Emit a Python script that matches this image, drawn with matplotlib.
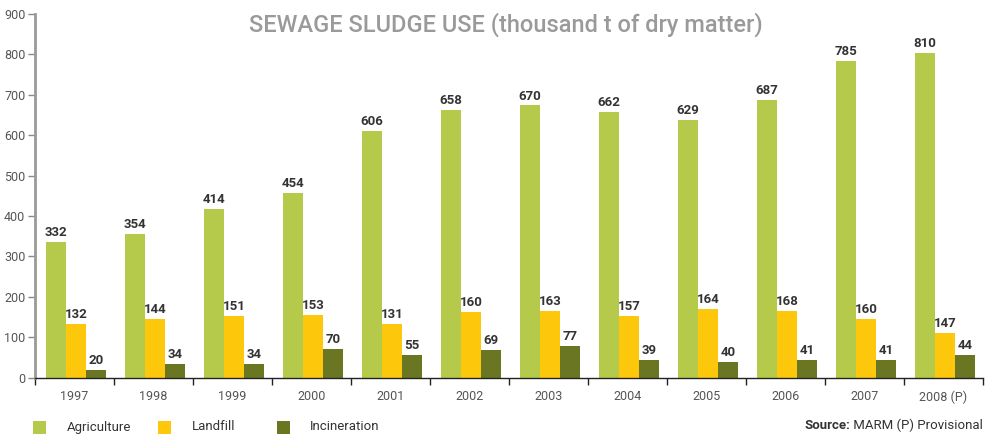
import matplotlib
matplotlib.use("Agg")
import numpy as np
import matplotlib.pyplot as plt
from matplotlib.patches import Rectangle

plt.rcParams['font.family'] = ['Roboto', 'DejaVu Sans']

years = ["1997", "1998", "1999", "2000", "2001", "2002", "2003", "2004",
         "2005", "2006", "2007", "2008 (P)"]
series = ["Agriculture", "Landfill", "Incineration"]

# bar heights as drawn in the picture
agriculture = [336, 356, 417, 457, 610, 662, 674, 658, 638, 687, 784, 803]
landfill = [133, 145, 153, 155, 133, 162, 165, 153, 170, 165, 145, 110]
incineration = [19, 34, 34, 71, 56, 68, 78, 44, 39, 44, 44, 56]

# printed value labels
agriculture_lbl = [332, 354, 414, 454, 606, 658, 670, 662, 629, 687, 785, 810]
landfill_lbl = [132, 144, 151, 153, 131, 160, 163, 157, 164, 168, 160, 147]
incineration_lbl = [20, 34, 34, 70, 55, 69, 77, 39, 40, 41, 41, 44]

colors = ["#b5c94a", "#fdc80c", "#6b7622"]

fig = plt.figure(figsize=(9.87, 4.34), dpi=100)
ax = fig.add_axes([35 / 987, 1 - 377.7 / 434, 948 / 987, (377.7 - 14) / 434])

x = np.arange(len(years)) + 0.52
w = 0.253
data = [agriculture, landfill, incineration]
labels = [agriculture_lbl, landfill_lbl, incineration_lbl]
for k in range(3):
    bars = ax.bar(x + (k - 1) * w, data[k], width=w, color=colors[k], linewidth=0)
    for b, lab in zip(bars, labels[k]):
        ax.annotate(str(lab), (b.get_x() + b.get_width() / 2, b.get_height()),
                    xytext=(0, 2), textcoords="offset points",
                    ha="center", va="bottom", fontsize=9.5, fontweight="bold",
                    color="#333333")

ax.set_xlim(0, 12)
ax.set_ylim(0, 900)
ax.set_yticks(range(0, 901, 100))
ax.set_xticks(range(0, 13))
ax.set_xticklabels([])
ax.set_xticks(np.arange(12) + 0.5, minor=True)
ax.set_xticklabels(years, minor=True)
ax.tick_params(axis="x", which="major", length=5, width=1, color="#222222", direction="out")
ax.tick_params(axis="x", which="minor", length=0, pad=9, labelsize=9, labelcolor="#555555")
ax.tick_params(axis="y", length=5, width=1, color="#888888", labelsize=9,
               labelcolor="#555555", pad=2)

for s in ["top", "right"]:
    ax.spines[s].set_visible(False)
ax.spines["left"].set_color("#999999")
ax.spines["left"].set_linewidth(2)
ax.spines["bottom"].set_color("#222222")
ax.spines["bottom"].set_linewidth(1)

fig.text(0.513, 1 - 32 / 434, "SEWAGE SLUDGE USE (thousand t of dry matter)",
         ha="center", va="baseline", fontsize=17, color="#9a9a9a", fontweight="medium")

# legend along the bottom edge
leg_x = [33, 158, 277]
txt_x = [67, 192, 310]
for k in range(3):
    fig.add_artist(Rectangle((leg_x[k] / 987, 1 - 434 / 434), 13 / 987, 13 / 434,
                             transform=fig.transFigure, color=colors[k], linewidth=0))
    fig.text(txt_x[k] / 987, 1 - 430.5 / 434, series[k], ha="left", va="baseline",
             fontsize=9.5, color="#333333")

src = fig.text(983 / 987, 1 - 429 / 434, " MARM (P) Provisional", ha="right",
               va="baseline", fontsize=9.5, color="#333333")
fig.canvas.draw()
bb = src.get_window_extent()
fig.text(bb.x0 / fig.bbox.width, 1 - 429 / 434, "Source:", ha="right", va="baseline",
         fontsize=9.5, fontweight="bold", color="#333333")

fig.savefig("out.png", dpi=100)
